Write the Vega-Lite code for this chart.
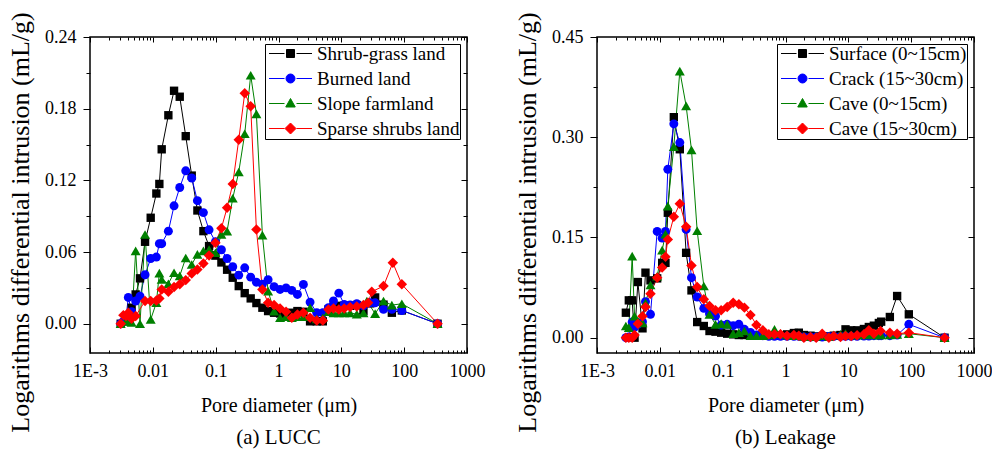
{
"$schema": "https://vega.github.io/schema/vega-lite/v6.json",
"padding": {"left": 6, "top": 11, "right": 0, "bottom": 0},
"spacing": 27,
"config": {
  "font": "Liberation Serif",
  "view": {"stroke": "black", "strokeWidth": 1.5},
  "axis": {"domain": false, "grid": false, "tickColor": "black", "tickWidth": 1, "labelColor": "black", "titleColor": "black", "labelFont": "Liberation Serif", "titleFont": "Liberation Serif", "labelFontSize": 18, "titleFontSize": 20, "titleFontWeight": "normal", "labelFlush": false, "labelOverlap": false, "labelBound": false},
  "axisY": {"titleFontSize": 26},
  "title": {"font": "Liberation Serif", "fontSize": 21, "fontWeight": "normal", "color": "black"},
  "legend": {"orient": "top-right", "offset": 7, "padding": 0, "strokeColor": "black", "fillColor": "white", "labelFont": "Liberation Serif", "labelFontSize": 19, "labelColor": "black", "symbolSize": 100, "symbolOffset": 16, "labelOffset": 17, "rowPadding": 5, "symbolStrokeWidth": 1}
},
"datasets": {
"lucc": [
{"s":"Shrub-grass land","d":0.00308,"v":0},{"s":"Shrub-grass land","d":0.00374,"v":0.004},{"s":"Shrub-grass land","d":0.0046,"v":0.0134},{"s":"Shrub-grass land","d":0.00533,"v":0.0245},{"s":"Shrub-grass land","d":0.00625,"v":0.038},{"s":"Shrub-grass land","d":0.00752,"v":0.0686},{"s":"Shrub-grass land","d":0.00925,"v":0.0887},{"s":"Shrub-grass land","d":0.01138,"v":0.109},{"s":"Shrub-grass land","d":0.0127,"v":0.117},{"s":"Shrub-grass land","d":0.01384,"v":0.146},{"s":"Shrub-grass land","d":0.01767,"v":0.1745},{"s":"Shrub-grass land","d":0.02176,"v":0.195},{"s":"Shrub-grass land","d":0.0268,"v":0.19},{"s":"Shrub-grass land","d":0.0334,"v":0.157},{"s":"Shrub-grass land","d":0.0416,"v":0.124},{"s":"Shrub-grass land","d":0.0512,"v":0.0948},{"s":"Shrub-grass land","d":0.0638,"v":0.0775},{"s":"Shrub-grass land","d":0.0785,"v":0.065},{"s":"Shrub-grass land","d":0.0991,"v":0.057},{"s":"Shrub-grass land","d":0.1234,"v":0.0513},{"s":"Shrub-grass land","d":0.152,"v":0.0452},{"s":"Shrub-grass land","d":0.187,"v":0.0385},{"s":"Shrub-grass land","d":0.233,"v":0.0315},{"s":"Shrub-grass land","d":0.29,"v":0.0256},{"s":"Shrub-grass land","d":0.361,"v":0.0212},{"s":"Shrub-grass land","d":0.445,"v":0.0173},{"s":"Shrub-grass land","d":0.554,"v":0.0134},{"s":"Shrub-grass land","d":0.683,"v":0.0106},{"s":"Shrub-grass land","d":0.851,"v":0.0092},{"s":"Shrub-grass land","d":1.06,"v":0.0086},{"s":"Shrub-grass land","d":1.32,"v":0.0086},{"s":"Shrub-grass land","d":1.63,"v":0.0092},{"s":"Shrub-grass land","d":2.0,"v":0.0106},{"s":"Shrub-grass land","d":2.49,"v":0.01},{"s":"Shrub-grass land","d":3.18,"v":0.002},{"s":"Shrub-grass land","d":4.06,"v":0.002},{"s":"Shrub-grass land","d":5.07,"v":0.002},{"s":"Shrub-grass land","d":6.24,"v":0.012},{"s":"Shrub-grass land","d":7.5,"v":0.014},{"s":"Shrub-grass land","d":9.12,"v":0.015},{"s":"Shrub-grass land","d":11.1,"v":0.015},{"s":"Shrub-grass land","d":13.8,"v":0.015},{"s":"Shrub-grass land","d":17.6,"v":0.0156},{"s":"Shrub-grass land","d":22.5,"v":0.0106},{"s":"Shrub-grass land","d":28.8,"v":0.017},{"s":"Shrub-grass land","d":34.5,"v":0.022},{"s":"Shrub-grass land","d":46.9,"v":0.016},{"s":"Shrub-grass land","d":63.7,"v":0.0092},{"s":"Shrub-grass land","d":91.8,"v":0.0111},{"s":"Shrub-grass land","d":340,"v":0},
{"s":"Burned land","d":0.00308,"v":0},{"s":"Burned land","d":0.0034,"v":0.002},{"s":"Burned land","d":0.00374,"v":0.005},{"s":"Burned land","d":0.00407,"v":0.022},{"s":"Burned land","d":0.0046,"v":0.01},{"s":"Burned land","d":0.00533,"v":0.019},{"s":"Burned land","d":0.00625,"v":0.023},{"s":"Burned land","d":0.00752,"v":0.041},{"s":"Burned land","d":0.00925,"v":0.0546},{"s":"Burned land","d":0.01138,"v":0.0558},{"s":"Burned land","d":0.0127,"v":0.067},{"s":"Burned land","d":0.01384,"v":0.067},{"s":"Burned land","d":0.01767,"v":0.0775},{"s":"Burned land","d":0.02176,"v":0.0987},{"s":"Burned land","d":0.0268,"v":0.114},{"s":"Burned land","d":0.0334,"v":0.128},{"s":"Burned land","d":0.0416,"v":0.122},{"s":"Burned land","d":0.0512,"v":0.103},{"s":"Burned land","d":0.0638,"v":0.093},{"s":"Burned land","d":0.0785,"v":0.0786},{"s":"Burned land","d":0.0991,"v":0.0686},{"s":"Burned land","d":0.1234,"v":0.0619},{"s":"Burned land","d":0.152,"v":0.0546},{"s":"Burned land","d":0.187,"v":0.0477},{"s":"Burned land","d":0.233,"v":0.0407},{"s":"Burned land","d":0.29,"v":0.0468},{"s":"Burned land","d":0.361,"v":0.039},{"s":"Burned land","d":0.445,"v":0.0348},{"s":"Burned land","d":0.554,"v":0.033},{"s":"Burned land","d":0.683,"v":0.0368},{"s":"Burned land","d":0.851,"v":0.031},{"s":"Burned land","d":1.06,"v":0.0287},{"s":"Burned land","d":1.32,"v":0.03},{"s":"Burned land","d":1.63,"v":0.0279},{"s":"Burned land","d":2.0,"v":0.0245},{"s":"Burned land","d":2.49,"v":0.0329},{"s":"Burned land","d":3.18,"v":0.0181},{"s":"Burned land","d":4.06,"v":0.0092},{"s":"Burned land","d":5.07,"v":0.0092},{"s":"Burned land","d":6.24,"v":0.0134},{"s":"Burned land","d":7.5,"v":0.019},{"s":"Burned land","d":9.12,"v":0.0256},{"s":"Burned land","d":11.1,"v":0.0162},{"s":"Burned land","d":13.8,"v":0.0156},{"s":"Burned land","d":17.6,"v":0.0167},{"s":"Burned land","d":22.5,"v":0.015},{"s":"Burned land","d":28.8,"v":0.0175},{"s":"Burned land","d":34.5,"v":0.0175},{"s":"Burned land","d":46.9,"v":0.012},{"s":"Burned land","d":63.7,"v":0.012},{"s":"Burned land","d":91.8,"v":0.0111},{"s":"Burned land","d":340,"v":0},
{"s":"Slope farmland","d":0.00308,"v":0},{"s":"Slope farmland","d":0.00374,"v":0.002},{"s":"Slope farmland","d":0.00407,"v":0.002},{"s":"Slope farmland","d":0.0046,"v":0.001},{"s":"Slope farmland","d":0.00533,"v":0.061},{"s":"Slope farmland","d":0.00625,"v":0.0},{"s":"Slope farmland","d":0.00752,"v":0.0747},{"s":"Slope farmland","d":0.00925,"v":0.0036},{"s":"Slope farmland","d":0.01138,"v":0.0176},{"s":"Slope farmland","d":0.0127,"v":0.0424},{"s":"Slope farmland","d":0.01384,"v":0.037},{"s":"Slope farmland","d":0.01767,"v":0.0335},{"s":"Slope farmland","d":0.02176,"v":0.0427},{"s":"Slope farmland","d":0.0268,"v":0.04},{"s":"Slope farmland","d":0.0334,"v":0.055},{"s":"Slope farmland","d":0.0416,"v":0.0496},{"s":"Slope farmland","d":0.0512,"v":0.058},{"s":"Slope farmland","d":0.0638,"v":0.061},{"s":"Slope farmland","d":0.0785,"v":0.062},{"s":"Slope farmland","d":0.0991,"v":0.0594},{"s":"Slope farmland","d":0.1234,"v":0.0747},{"s":"Slope farmland","d":0.152,"v":0.0775},{"s":"Slope farmland","d":0.187,"v":0.105},{"s":"Slope farmland","d":0.233,"v":0.127},{"s":"Slope farmland","d":0.29,"v":0.159},{"s":"Slope farmland","d":0.361,"v":0.208},{"s":"Slope farmland","d":0.445,"v":0.1756},{"s":"Slope farmland","d":0.554,"v":0.0742},{"s":"Slope farmland","d":0.683,"v":0.0273},{"s":"Slope farmland","d":0.851,"v":0.0106},{"s":"Slope farmland","d":1.06,"v":0.005},{"s":"Slope farmland","d":1.32,"v":0.006},{"s":"Slope farmland","d":1.63,"v":0.005},{"s":"Slope farmland","d":2.0,"v":0.006},{"s":"Slope farmland","d":2.49,"v":0.006},{"s":"Slope farmland","d":3.18,"v":0.0134},{"s":"Slope farmland","d":4.06,"v":0.004},{"s":"Slope farmland","d":5.07,"v":0.005},{"s":"Slope farmland","d":6.24,"v":0.01},{"s":"Slope farmland","d":7.5,"v":0.009},{"s":"Slope farmland","d":9.12,"v":0.009},{"s":"Slope farmland","d":11.1,"v":0.009},{"s":"Slope farmland","d":13.8,"v":0.009},{"s":"Slope farmland","d":17.6,"v":0.008},{"s":"Slope farmland","d":22.5,"v":0.009},{"s":"Slope farmland","d":25.5,"v":0.019},{"s":"Slope farmland","d":34.5,"v":0.0084},{"s":"Slope farmland","d":46.9,"v":0.019},{"s":"Slope farmland","d":63.7,"v":0.0156},{"s":"Slope farmland","d":91.8,"v":0.0167},{"s":"Slope farmland","d":340,"v":0},
{"s":"Sparse shrubs land","d":0.00308,"v":0},{"s":"Sparse shrubs land","d":0.0034,"v":0.0072},{"s":"Sparse shrubs land","d":0.00374,"v":0.0064},{"s":"Sparse shrubs land","d":0.00407,"v":0.0092},{"s":"Sparse shrubs land","d":0.0046,"v":0.0042},{"s":"Sparse shrubs land","d":0.00533,"v":0.0064},{"s":"Sparse shrubs land","d":0.00752,"v":0.019},{"s":"Sparse shrubs land","d":0.00925,"v":0.019},{"s":"Sparse shrubs land","d":0.01138,"v":0.0195},{"s":"Sparse shrubs land","d":0.0127,"v":0.0212},{"s":"Sparse shrubs land","d":0.01384,"v":0.0287},{"s":"Sparse shrubs land","d":0.01767,"v":0.0268},{"s":"Sparse shrubs land","d":0.02176,"v":0.0307},{"s":"Sparse shrubs land","d":0.0268,"v":0.033},{"s":"Sparse shrubs land","d":0.0334,"v":0.0365},{"s":"Sparse shrubs land","d":0.0416,"v":0.042},{"s":"Sparse shrubs land","d":0.0512,"v":0.0454},{"s":"Sparse shrubs land","d":0.0638,"v":0.0505},{"s":"Sparse shrubs land","d":0.0785,"v":0.0571},{"s":"Sparse shrubs land","d":0.0991,"v":0.0677},{"s":"Sparse shrubs land","d":0.1234,"v":0.08},{"s":"Sparse shrubs land","d":0.152,"v":0.097},{"s":"Sparse shrubs land","d":0.187,"v":0.117},{"s":"Sparse shrubs land","d":0.233,"v":0.154},{"s":"Sparse shrubs land","d":0.29,"v":0.193},{"s":"Sparse shrubs land","d":0.361,"v":0.182},{"s":"Sparse shrubs land","d":0.445,"v":0.0789},{"s":"Sparse shrubs land","d":0.554,"v":0.0287},{"s":"Sparse shrubs land","d":0.683,"v":0.0176},{"s":"Sparse shrubs land","d":0.851,"v":0.0156},{"s":"Sparse shrubs land","d":1.06,"v":0.0128},{"s":"Sparse shrubs land","d":1.32,"v":0.01},{"s":"Sparse shrubs land","d":1.63,"v":0.005},{"s":"Sparse shrubs land","d":2.0,"v":0.0078},{"s":"Sparse shrubs land","d":2.49,"v":0.0092},{"s":"Sparse shrubs land","d":3.18,"v":0.005},{"s":"Sparse shrubs land","d":4.06,"v":0.0028},{"s":"Sparse shrubs land","d":5.07,"v":0.0028},{"s":"Sparse shrubs land","d":6.24,"v":0.012},{"s":"Sparse shrubs land","d":7.5,"v":0.0128},{"s":"Sparse shrubs land","d":9.12,"v":0.012},{"s":"Sparse shrubs land","d":11.1,"v":0.0128},{"s":"Sparse shrubs land","d":13.8,"v":0.0139},{"s":"Sparse shrubs land","d":17.6,"v":0.0145},{"s":"Sparse shrubs land","d":22.5,"v":0.0156},{"s":"Sparse shrubs land","d":26.7,"v":0.0176},{"s":"Sparse shrubs land","d":30.5,"v":0.0268},{"s":"Sparse shrubs land","d":46.9,"v":0.0315},{"s":"Sparse shrubs land","d":66.0,"v":0.051},{"s":"Sparse shrubs land","d":91.8,"v":0.033},{"s":"Sparse shrubs land","d":340,"v":0}
],
"leak": [
{"s":"Surface (0~15cm)","d":0.00288,"v":0.0374},{"s":"Surface (0~15cm)","d":0.00321,"v":0.0559},{"s":"Surface (0~15cm)","d":0.00363,"v":0.0559},{"s":"Surface (0~15cm)","d":0.00396,"v":0.0},{"s":"Surface (0~15cm)","d":0.00447,"v":0.0833},{"s":"Surface (0~15cm)","d":0.0053,"v":0.014},{"s":"Surface (0~15cm)","d":0.00591,"v":0.0973},{"s":"Surface (0~15cm)","d":0.0071,"v":0.0858},{"s":"Surface (0~15cm)","d":0.00907,"v":0.0888},{"s":"Surface (0~15cm)","d":0.01089,"v":0.112},{"s":"Surface (0~15cm)","d":0.0123,"v":0.112},{"s":"Surface (0~15cm)","d":0.0134,"v":0.187},{"s":"Surface (0~15cm)","d":0.0167,"v":0.33},{"s":"Surface (0~15cm)","d":0.0208,"v":0.282},{"s":"Surface (0~15cm)","d":0.0262,"v":0.127},{"s":"Surface (0~15cm)","d":0.0319,"v":0.0708},{"s":"Surface (0~15cm)","d":0.0393,"v":0.0234},{"s":"Surface (0~15cm)","d":0.0501,"v":0.0175},{"s":"Surface (0~15cm)","d":0.0617,"v":0.01},{"s":"Surface (0~15cm)","d":0.0769,"v":0.009},{"s":"Surface (0~15cm)","d":0.0946,"v":0.0075},{"s":"Surface (0~15cm)","d":0.118,"v":0.006},{"s":"Surface (0~15cm)","d":0.147,"v":0.005},{"s":"Surface (0~15cm)","d":0.181,"v":0.004},{"s":"Surface (0~15cm)","d":0.222,"v":0.004},{"s":"Surface (0~15cm)","d":0.277,"v":0.003},{"s":"Surface (0~15cm)","d":0.345,"v":0.003},{"s":"Surface (0~15cm)","d":0.436,"v":0.003},{"s":"Surface (0~15cm)","d":0.543,"v":0.003},{"s":"Surface (0~15cm)","d":0.668,"v":0.003},{"s":"Surface (0~15cm)","d":0.832,"v":0.003},{"s":"Surface (0~15cm)","d":1.06,"v":0.005},{"s":"Surface (0~15cm)","d":1.36,"v":0.007},{"s":"Surface (0~15cm)","d":1.63,"v":0.0075},{"s":"Surface (0~15cm)","d":1.96,"v":0.004},{"s":"Surface (0~15cm)","d":2.5,"v":0.003},{"s":"Surface (0~15cm)","d":3.08,"v":0.002},{"s":"Surface (0~15cm)","d":3.84,"v":0.002},{"s":"Surface (0~15cm)","d":4.9,"v":0.002},{"s":"Surface (0~15cm)","d":5.88,"v":0.003},{"s":"Surface (0~15cm)","d":7.5,"v":0.004},{"s":"Surface (0~15cm)","d":9.02,"v":0.0125},{"s":"Surface (0~15cm)","d":11.1,"v":0.011},{"s":"Surface (0~15cm)","d":13.8,"v":0.011},{"s":"Surface (0~15cm)","d":17.7,"v":0.013},{"s":"Surface (0~15cm)","d":21.2,"v":0.016},{"s":"Surface (0~15cm)","d":25.5,"v":0.018},{"s":"Surface (0~15cm)","d":30.6,"v":0.022},{"s":"Surface (0~15cm)","d":33.3,"v":0.024},{"s":"Surface (0~15cm)","d":45.8,"v":0.031},{"s":"Surface (0~15cm)","d":59.8,"v":0.0624},{"s":"Surface (0~15cm)","d":91.8,"v":0.035},{"s":"Surface (0~15cm)","d":340,"v":0},
{"s":"Crack (15~30cm)","d":0.00288,"v":0},{"s":"Crack (15~30cm)","d":0.00321,"v":0.001},{"s":"Crack (15~30cm)","d":0.00363,"v":0.0234},{"s":"Crack (15~30cm)","d":0.00396,"v":0.016},{"s":"Crack (15~30cm)","d":0.00447,"v":0.02},{"s":"Crack (15~30cm)","d":0.0053,"v":0.024},{"s":"Crack (15~30cm)","d":0.00591,"v":0.054},{"s":"Crack (15~30cm)","d":0.0071,"v":0.035},{"s":"Crack (15~30cm)","d":0.00907,"v":0.159},{"s":"Crack (15~30cm)","d":0.01089,"v":0.149},{"s":"Crack (15~30cm)","d":0.0123,"v":0.159},{"s":"Crack (15~30cm)","d":0.0134,"v":0.252},{"s":"Crack (15~30cm)","d":0.0167,"v":0.32},{"s":"Crack (15~30cm)","d":0.0208,"v":0.292},{"s":"Crack (15~30cm)","d":0.0262,"v":0.162},{"s":"Crack (15~30cm)","d":0.0319,"v":0.0898},{"s":"Crack (15~30cm)","d":0.0393,"v":0.0609},{"s":"Crack (15~30cm)","d":0.0501,"v":0.0439},{"s":"Crack (15~30cm)","d":0.0617,"v":0.036},{"s":"Crack (15~30cm)","d":0.0769,"v":0.0324},{"s":"Crack (15~30cm)","d":0.0946,"v":0.019},{"s":"Crack (15~30cm)","d":0.118,"v":0.02},{"s":"Crack (15~30cm)","d":0.147,"v":0.018},{"s":"Crack (15~30cm)","d":0.181,"v":0.02},{"s":"Crack (15~30cm)","d":0.222,"v":0.0125},{"s":"Crack (15~30cm)","d":0.277,"v":0.008},{"s":"Crack (15~30cm)","d":0.345,"v":0.004},{"s":"Crack (15~30cm)","d":0.436,"v":0.003},{"s":"Crack (15~30cm)","d":0.543,"v":0.002},{"s":"Crack (15~30cm)","d":0.668,"v":0.002},{"s":"Crack (15~30cm)","d":0.832,"v":0.002},{"s":"Crack (15~30cm)","d":1.06,"v":0.002},{"s":"Crack (15~30cm)","d":1.36,"v":0.002},{"s":"Crack (15~30cm)","d":1.63,"v":0.002},{"s":"Crack (15~30cm)","d":1.96,"v":0.001},{"s":"Crack (15~30cm)","d":2.5,"v":0.001},{"s":"Crack (15~30cm)","d":3.08,"v":0.001},{"s":"Crack (15~30cm)","d":3.84,"v":0.001},{"s":"Crack (15~30cm)","d":4.9,"v":0.002},{"s":"Crack (15~30cm)","d":5.88,"v":0.002},{"s":"Crack (15~30cm)","d":7.5,"v":0.002},{"s":"Crack (15~30cm)","d":9.02,"v":0.002},{"s":"Crack (15~30cm)","d":11.1,"v":0.002},{"s":"Crack (15~30cm)","d":13.8,"v":0.002},{"s":"Crack (15~30cm)","d":17.7,"v":0.0025},{"s":"Crack (15~30cm)","d":21.2,"v":0.0025},{"s":"Crack (15~30cm)","d":25.5,"v":0.003},{"s":"Crack (15~30cm)","d":30.6,"v":0.003},{"s":"Crack (15~30cm)","d":33.3,"v":0.003},{"s":"Crack (15~30cm)","d":45.8,"v":0.003},{"s":"Crack (15~30cm)","d":59.8,"v":0.004},{"s":"Crack (15~30cm)","d":91.8,"v":0.02},{"s":"Crack (15~30cm)","d":340,"v":0},
{"s":"Cave (0~15cm)","d":0.00288,"v":0.0175},{"s":"Cave (0~15cm)","d":0.00321,"v":0.015},{"s":"Cave (0~15cm)","d":0.00363,"v":0.122},{"s":"Cave (0~15cm)","d":0.00396,"v":0.0324},{"s":"Cave (0~15cm)","d":0.00447,"v":0.025},{"s":"Cave (0~15cm)","d":0.0053,"v":0.022},{"s":"Cave (0~15cm)","d":0.00591,"v":0.052},{"s":"Cave (0~15cm)","d":0.0071,"v":0.0788},{"s":"Cave (0~15cm)","d":0.00907,"v":0.092},{"s":"Cave (0~15cm)","d":0.01089,"v":0.131},{"s":"Cave (0~15cm)","d":0.0123,"v":0.155},{"s":"Cave (0~15cm)","d":0.0134,"v":0.197},{"s":"Cave (0~15cm)","d":0.0167,"v":0.286},{"s":"Cave (0~15cm)","d":0.0208,"v":0.399},{"s":"Cave (0~15cm)","d":0.0262,"v":0.347},{"s":"Cave (0~15cm)","d":0.0319,"v":0.281},{"s":"Cave (0~15cm)","d":0.0393,"v":0.16},{"s":"Cave (0~15cm)","d":0.0501,"v":0.0773},{"s":"Cave (0~15cm)","d":0.0617,"v":0.035},{"s":"Cave (0~15cm)","d":0.0769,"v":0.02},{"s":"Cave (0~15cm)","d":0.0946,"v":0.021},{"s":"Cave (0~15cm)","d":0.118,"v":0.02},{"s":"Cave (0~15cm)","d":0.147,"v":0.006},{"s":"Cave (0~15cm)","d":0.181,"v":0.0075},{"s":"Cave (0~15cm)","d":0.222,"v":0.01},{"s":"Cave (0~15cm)","d":0.277,"v":0.003},{"s":"Cave (0~15cm)","d":0.345,"v":0.003},{"s":"Cave (0~15cm)","d":0.436,"v":0.003},{"s":"Cave (0~15cm)","d":0.543,"v":0.004},{"s":"Cave (0~15cm)","d":0.668,"v":0.0125},{"s":"Cave (0~15cm)","d":0.832,"v":0.006},{"s":"Cave (0~15cm)","d":1.06,"v":0.004},{"s":"Cave (0~15cm)","d":1.36,"v":0.003},{"s":"Cave (0~15cm)","d":1.63,"v":0.003},{"s":"Cave (0~15cm)","d":1.96,"v":0.002},{"s":"Cave (0~15cm)","d":2.5,"v":0.002},{"s":"Cave (0~15cm)","d":3.08,"v":0.002},{"s":"Cave (0~15cm)","d":3.84,"v":0.003},{"s":"Cave (0~15cm)","d":4.9,"v":0.002},{"s":"Cave (0~15cm)","d":5.88,"v":0.004},{"s":"Cave (0~15cm)","d":7.5,"v":0.005},{"s":"Cave (0~15cm)","d":9.02,"v":0.006},{"s":"Cave (0~15cm)","d":11.1,"v":0.004},{"s":"Cave (0~15cm)","d":13.8,"v":0.004},{"s":"Cave (0~15cm)","d":17.7,"v":0.004},{"s":"Cave (0~15cm)","d":21.2,"v":0.005},{"s":"Cave (0~15cm)","d":25.5,"v":0.004},{"s":"Cave (0~15cm)","d":30.6,"v":0.004},{"s":"Cave (0~15cm)","d":33.3,"v":0.004},{"s":"Cave (0~15cm)","d":45.8,"v":0.004},{"s":"Cave (0~15cm)","d":59.8,"v":0.005},{"s":"Cave (0~15cm)","d":91.8,"v":0.006},{"s":"Cave (0~15cm)","d":340,"v":0},
{"s":"Cave (15~30cm)","d":0.00288,"v":0},{"s":"Cave (15~30cm)","d":0.00321,"v":0},{"s":"Cave (15~30cm)","d":0.00363,"v":0},{"s":"Cave (15~30cm)","d":0.00396,"v":0.004},{"s":"Cave (15~30cm)","d":0.00447,"v":0.021},{"s":"Cave (15~30cm)","d":0.0053,"v":0.032},{"s":"Cave (15~30cm)","d":0.00591,"v":0.046},{"s":"Cave (15~30cm)","d":0.0071,"v":0.0658},{"s":"Cave (15~30cm)","d":0.00907,"v":0.0898},{"s":"Cave (15~30cm)","d":0.01089,"v":0.105},{"s":"Cave (15~30cm)","d":0.0123,"v":0.121},{"s":"Cave (15~30cm)","d":0.0134,"v":0.147},{"s":"Cave (15~30cm)","d":0.0167,"v":0.181},{"s":"Cave (15~30cm)","d":0.0208,"v":0.2005},{"s":"Cave (15~30cm)","d":0.0262,"v":0.166},{"s":"Cave (15~30cm)","d":0.0319,"v":0.108},{"s":"Cave (15~30cm)","d":0.0393,"v":0.0758},{"s":"Cave (15~30cm)","d":0.0501,"v":0.0574},{"s":"Cave (15~30cm)","d":0.0617,"v":0.0474},{"s":"Cave (15~30cm)","d":0.0769,"v":0.0409},{"s":"Cave (15~30cm)","d":0.0946,"v":0.041},{"s":"Cave (15~30cm)","d":0.118,"v":0.046},{"s":"Cave (15~30cm)","d":0.147,"v":0.0524},{"s":"Cave (15~30cm)","d":0.181,"v":0.05},{"s":"Cave (15~30cm)","d":0.222,"v":0.045},{"s":"Cave (15~30cm)","d":0.277,"v":0.034},{"s":"Cave (15~30cm)","d":0.345,"v":0.019},{"s":"Cave (15~30cm)","d":0.436,"v":0.011},{"s":"Cave (15~30cm)","d":0.543,"v":0.005},{"s":"Cave (15~30cm)","d":0.668,"v":0.005},{"s":"Cave (15~30cm)","d":0.832,"v":0.005},{"s":"Cave (15~30cm)","d":1.06,"v":0.003},{"s":"Cave (15~30cm)","d":1.36,"v":0.004},{"s":"Cave (15~30cm)","d":1.63,"v":0.003},{"s":"Cave (15~30cm)","d":1.96,"v":0.0},{"s":"Cave (15~30cm)","d":2.5,"v":0.001},{"s":"Cave (15~30cm)","d":3.08,"v":0.0},{"s":"Cave (15~30cm)","d":3.84,"v":0.006},{"s":"Cave (15~30cm)","d":4.9,"v":0.0},{"s":"Cave (15~30cm)","d":5.88,"v":0.0025},{"s":"Cave (15~30cm)","d":7.5,"v":0.001},{"s":"Cave (15~30cm)","d":9.02,"v":0.0025},{"s":"Cave (15~30cm)","d":11.1,"v":0.0025},{"s":"Cave (15~30cm)","d":13.8,"v":0.0035},{"s":"Cave (15~30cm)","d":17.7,"v":0.005},{"s":"Cave (15~30cm)","d":21.2,"v":0.011},{"s":"Cave (15~30cm)","d":25.5,"v":0.006},{"s":"Cave (15~30cm)","d":32.5,"v":0.01},{"s":"Cave (15~30cm)","d":45.8,"v":0.0075},{"s":"Cave (15~30cm)","d":59.8,"v":0.006},{"s":"Cave (15~30cm)","d":91.8,"v":0.0075},{"s":"Cave (15~30cm)","d":340,"v":0}
]
},
"resolve": {"scale": {"color": "independent"}, "legend": {"color": "independent"}},
"hconcat": [
{
  "width": 377, "height": 316,
  "data": {"name": "lucc"},
  "title": {"text": "(a) LUCC", "orient": "bottom", "frame": "group", "anchor": "middle", "offset": -5},
  "layer": [
    {"mark": {"type": "line", "strokeWidth": 1},
     "encoding": {
       "x": {"field": "d", "type": "quantitative", "scale": {"type": "log", "domain": [0.001, 1000], "nice": false},
             "axis": {"values": [0.001,0.002,0.003,0.004,0.005,0.006,0.007,0.008,0.009,0.01,0.02,0.03,0.04,0.05,0.06,0.07,0.08,0.09,0.1,0.2,0.3,0.4,0.5,0.6,0.7,0.8,0.9,1,2,3,4,5,6,7,8,9,10,20,30,40,50,60,70,80,90,100,200,300,400,500,600,700,800,900,1000],
                      "labelExpr": "datum.value == 0.001 ? '1E-3' : (indexof([0.01,0.1,1,10,100,1000], datum.value) >= 0 ? toString(datum.value) : '')",
                      "tickSize": {"condition": {"test": "indexof([0.001,0.01,0.1,1,10,100,1000], datum.value) >= 0", "value": -6}, "value": -3},
                      "labelPadding": 15, "title": "Pore diameter (μm)", "titlePadding": 12}},
       "y": {"field": "v", "type": "quantitative", "scale": {"domain": [-0.0245, 0.24], "nice": false, "zero": false},
             "axis": {"values": [0,0.03,0.06,0.09,0.12,0.15,0.18,0.21,0.24],
                      "labelExpr": "indexof([0,0.06,0.12,0.18,0.24], datum.value) >= 0 ? format(datum.value, '.2f') : ''",
                      "tickSize": {"condition": {"test": "indexof([0,0.06,0.12,0.18,0.24], datum.value) >= 0", "value": 7}, "value": 4},
                      "labelPadding": 7, "title": "Logarithms differential intrusion (mL/g)", "titlePadding": 11, "titleY": 185}},
       "color": {"field": "s", "type": "nominal",
                 "scale": {"domain": ["Shrub-grass land","Burned land","Slope farmland","Sparse shrubs land"], "range": ["#000000","#0000ff","#008000","#ff0000"]},
                 "legend": {"title": null,
                   "encode": {"symbols": {"update": {
                     "shape": {"signal": "['M-4.3,0H-1.2M1.2,0H4.3M-0.8,-0.8H0.8V0.8H-0.8Z','M-4.3,0H-1.2M1.2,0H4.3M0.9,0A0.9,0.9 0 1,1 -0.9,0A0.9,0.9 0 1,1 0.9,0Z','M-4.3,0H-1.2M1.2,0H4.3M0,-1L0.95,0.7H-0.95Z','M-4.3,0H-1.2M1.2,0H4.3M0,-1.1L1.1,0L0,1.1L-1.1,0Z'][indexof(['Shrub-grass land','Burned land','Slope farmland','Sparse shrubs land'], datum.value)]"},
                     "fill": {"signal": "['#000000','#0000ff','#008000','#ff0000'][indexof(['Shrub-grass land','Burned land','Slope farmland','Sparse shrubs land'], datum.value)]"},
                     "stroke": {"signal": "['#000000','#0000ff','#008000','#ff0000'][indexof(['Shrub-grass land','Burned land','Slope farmland','Sparse shrubs land'], datum.value)]"},
                     "strokeWidth": {"value": 1}, "strokeOpacity": {"value": 1}, "opacity": {"value": 1}, "fillOpacity": {"value": 1}, "size": {"value": 100}}}}}}
     }},
    {"transform": [{"filter": "datum.s == 'Shrub-grass land'"}], "mark": {"type": "point", "filled": true, "opacity": 1, "shape": "square", "size": 70},
     "encoding": {"x": {"field": "d", "type": "quantitative", "axis": null}, "y": {"field": "v", "type": "quantitative", "axis": null}, "color": {"field": "s", "type": "nominal", "legend": null}}},
    {"transform": [{"filter": "datum.s == 'Burned land'"}], "mark": {"type": "point", "filled": true, "opacity": 1, "shape": "circle", "size": 80},
     "encoding": {"x": {"field": "d", "type": "quantitative", "axis": null}, "y": {"field": "v", "type": "quantitative", "axis": null}, "color": {"field": "s", "type": "nominal", "legend": null}}},
    {"transform": [{"filter": "datum.s == 'Slope farmland'"}], "mark": {"type": "point", "filled": true, "opacity": 1, "shape": "triangle-up", "size": 100},
     "encoding": {"x": {"field": "d", "type": "quantitative", "axis": null}, "y": {"field": "v", "type": "quantitative", "axis": null}, "color": {"field": "s", "type": "nominal", "legend": null}}},
    {"transform": [{"filter": "datum.s == 'Sparse shrubs land'"}], "mark": {"type": "point", "filled": true, "opacity": 1, "shape": "diamond", "size": 110},
     "encoding": {"x": {"field": "d", "type": "quantitative", "axis": null}, "y": {"field": "v", "type": "quantitative", "axis": null}, "color": {"field": "s", "type": "nominal", "legend": null}}},
    {"mark": {"type": "point", "opacity": 0},
     "encoding": {
       "x": {"field": "d", "type": "quantitative",
             "axis": {"orient": "top", "values": [0.001,0.002,0.003,0.004,0.005,0.006,0.007,0.008,0.009,0.01,0.02,0.03,0.04,0.05,0.06,0.07,0.08,0.09,0.1,0.2,0.3,0.4,0.5,0.6,0.7,0.8,0.9,1,2,3,4,5,6,7,8,9,10,20,30,40,50,60,70,80,90,100,200,300,400,500,600,700,800,900,1000],
                      "labels": false, "title": null,
                      "tickSize": {"condition": {"test": "indexof([0.001,0.01,0.1,1,10,100,1000], datum.value) >= 0", "value": -5}, "value": -3}}},
       "y": {"field": "v", "type": "quantitative",
             "axis": {"orient": "right", "values": [0,0.03,0.06,0.09,0.12,0.15,0.18,0.21,0.24], "labels": false, "title": null,
                      "tickSize": {"condition": {"test": "indexof([0,0.06,0.12,0.18,0.24], datum.value) >= 0", "value": -6}, "value": -4}}}
     }}
  ],
  "resolve": {"axis": {"x": "independent", "y": "independent"}}
},
{
  "width": 377, "height": 316,
  "data": {"name": "leak"},
  "title": {"text": "(b) Leakage", "orient": "bottom", "frame": "group", "anchor": "middle", "offset": -5},
  "layer": [
    {"mark": {"type": "line", "strokeWidth": 1},
     "encoding": {
       "x": {"field": "d", "type": "quantitative", "scale": {"type": "log", "domain": [0.001, 1000], "nice": false},
             "axis": {"values": [0.001,0.002,0.003,0.004,0.005,0.006,0.007,0.008,0.009,0.01,0.02,0.03,0.04,0.05,0.06,0.07,0.08,0.09,0.1,0.2,0.3,0.4,0.5,0.6,0.7,0.8,0.9,1,2,3,4,5,6,7,8,9,10,20,30,40,50,60,70,80,90,100,200,300,400,500,600,700,800,900,1000],
                      "labelExpr": "datum.value == 0.001 ? '1E-3' : (indexof([0.01,0.1,1,10,100,1000], datum.value) >= 0 ? toString(datum.value) : '')",
                      "tickSize": {"condition": {"test": "indexof([0.001,0.01,0.1,1,10,100,1000], datum.value) >= 0", "value": -6}, "value": -3},
                      "labelPadding": 15, "title": "Pore diameter (μm)", "titlePadding": 12}},
       "y": {"field": "v", "type": "quantitative", "scale": {"domain": [-0.0229, 0.45], "nice": false, "zero": false},
             "axis": {"values": [0,0.075,0.15,0.225,0.3,0.375,0.45],
                      "labelExpr": "indexof([0,0.15,0.3,0.45], datum.value) >= 0 ? format(datum.value, '.2f') : ''",
                      "tickSize": {"condition": {"test": "indexof([0,0.15,0.3,0.45], datum.value) >= 0", "value": 7}, "value": 4},
                      "labelPadding": 7, "title": "Logarithms differential intrusion (mL/g)", "titlePadding": 11, "titleY": 185}},
       "color": {"field": "s", "type": "nominal",
                 "scale": {"domain": ["Surface (0~15cm)","Crack (15~30cm)","Cave (0~15cm)","Cave (15~30cm)"], "range": ["#000000","#0000ff","#008000","#ff0000"]},
                 "legend": {"title": null,
                   "encode": {"symbols": {"update": {
                     "shape": {"signal": "['M-4.3,0H-1.2M1.2,0H4.3M-0.8,-0.8H0.8V0.8H-0.8Z','M-4.3,0H-1.2M1.2,0H4.3M0.9,0A0.9,0.9 0 1,1 -0.9,0A0.9,0.9 0 1,1 0.9,0Z','M-4.3,0H-1.2M1.2,0H4.3M0,-1L0.95,0.7H-0.95Z','M-4.3,0H-1.2M1.2,0H4.3M0,-1.1L1.1,0L0,1.1L-1.1,0Z'][indexof(['Surface (0~15cm)','Crack (15~30cm)','Cave (0~15cm)','Cave (15~30cm)'], datum.value)]"},
                     "fill": {"signal": "['#000000','#0000ff','#008000','#ff0000'][indexof(['Surface (0~15cm)','Crack (15~30cm)','Cave (0~15cm)','Cave (15~30cm)'], datum.value)]"},
                     "stroke": {"signal": "['#000000','#0000ff','#008000','#ff0000'][indexof(['Surface (0~15cm)','Crack (15~30cm)','Cave (0~15cm)','Cave (15~30cm)'], datum.value)]"},
                     "strokeWidth": {"value": 1}, "strokeOpacity": {"value": 1}, "opacity": {"value": 1}, "fillOpacity": {"value": 1}, "size": {"value": 100}}}}}}
     }},
    {"transform": [{"filter": "datum.s == 'Surface (0~15cm)'"}], "mark": {"type": "point", "filled": true, "opacity": 1, "shape": "square", "size": 70},
     "encoding": {"x": {"field": "d", "type": "quantitative", "axis": null}, "y": {"field": "v", "type": "quantitative", "axis": null}, "color": {"field": "s", "type": "nominal", "legend": null}}},
    {"transform": [{"filter": "datum.s == 'Crack (15~30cm)'"}], "mark": {"type": "point", "filled": true, "opacity": 1, "shape": "circle", "size": 80},
     "encoding": {"x": {"field": "d", "type": "quantitative", "axis": null}, "y": {"field": "v", "type": "quantitative", "axis": null}, "color": {"field": "s", "type": "nominal", "legend": null}}},
    {"transform": [{"filter": "datum.s == 'Cave (0~15cm)'"}], "mark": {"type": "point", "filled": true, "opacity": 1, "shape": "triangle-up", "size": 100},
     "encoding": {"x": {"field": "d", "type": "quantitative", "axis": null}, "y": {"field": "v", "type": "quantitative", "axis": null}, "color": {"field": "s", "type": "nominal", "legend": null}}},
    {"transform": [{"filter": "datum.s == 'Cave (15~30cm)'"}], "mark": {"type": "point", "filled": true, "opacity": 1, "shape": "diamond", "size": 110},
     "encoding": {"x": {"field": "d", "type": "quantitative", "axis": null}, "y": {"field": "v", "type": "quantitative", "axis": null}, "color": {"field": "s", "type": "nominal", "legend": null}}},
    {"mark": {"type": "point", "opacity": 0},
     "encoding": {
       "x": {"field": "d", "type": "quantitative",
             "axis": {"orient": "top", "values": [0.001,0.002,0.003,0.004,0.005,0.006,0.007,0.008,0.009,0.01,0.02,0.03,0.04,0.05,0.06,0.07,0.08,0.09,0.1,0.2,0.3,0.4,0.5,0.6,0.7,0.8,0.9,1,2,3,4,5,6,7,8,9,10,20,30,40,50,60,70,80,90,100,200,300,400,500,600,700,800,900,1000],
                      "labels": false, "title": null,
                      "tickSize": {"condition": {"test": "indexof([0.001,0.01,0.1,1,10,100,1000], datum.value) >= 0", "value": -5}, "value": -3}}},
       "y": {"field": "v", "type": "quantitative",
             "axis": {"orient": "right", "values": [0,0.075,0.15,0.225,0.3,0.375,0.45], "labels": false, "title": null,
                      "tickSize": {"condition": {"test": "indexof([0,0.15,0.3,0.45], datum.value) >= 0", "value": -6}, "value": -4}}}
     }}
  ],
  "resolve": {"axis": {"x": "independent", "y": "independent"}}
}
]
}
